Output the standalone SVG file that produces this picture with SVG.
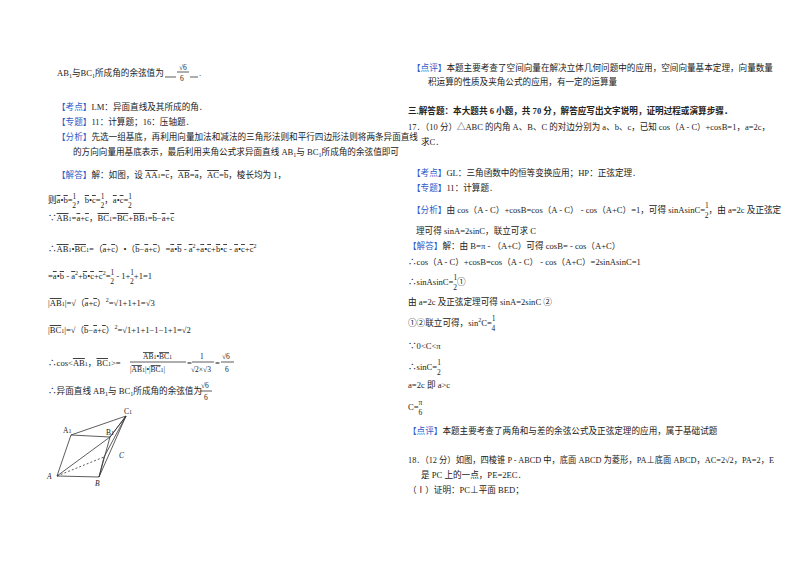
<svg xmlns="http://www.w3.org/2000/svg" width="800" height="565" viewBox="0 0 800 565">
<style>
text{font-family:"Liberation Serif","Noto Sans CJK SC",serif;font-size:8.6px;fill:#222}
.k{fill:#2f5bc8}
.b{font-weight:bold}
.o{text-decoration:overline}
.s{font-size:6px}
.f{font-size:7.5px}
line,path{stroke:#333;stroke-width:0.8;fill:none}
</style>
<rect width="800" height="565" fill="#fff"/>
<g id="left">
<text x="57" y="76">AB<tspan class="s" dy="2">1</tspan><tspan dy="-2">与BC</tspan><tspan class="s" dy="2">1</tspan><tspan dy="-2">所成角的余弦值为</tspan></text>
<line x1="165" y1="77" x2="176" y2="77" stroke-width="0.6"/>
<text x="179" y="70" class="f">√6</text><line x1="177" y1="72" x2="189" y2="72"/><text x="180" y="81" class="f">6</text>
<line x1="190" y1="77" x2="198" y2="77" stroke-width="0.6"/><text x="199" y="76">.</text>
<text x="57" y="110"><tspan class="k">【考点】</tspan>LM：异面直线及其所成的角．</text>
<text x="57" y="125"><tspan class="k">【专题】</tspan>11：计算题；16：压轴题．</text>
<text x="57" y="140"><tspan class="k">【分析】</tspan>先选一组基底，再利用向量加法和减法的三角形法则和平行四边形法则将两条异面直线</text>
<text x="73" y="155">的方向向量用基底表示，最后利用夹角公式求异面直线 AB<tspan class="s" dy="2">1</tspan><tspan dy="-2">与 BC</tspan><tspan class="s" dy="2">1</tspan><tspan dy="-2">所成角的余弦值即可</tspan></text>
<text x="57" y="178"><tspan class="k">【解答】</tspan>解：如图，设 <tspan class="o">AA</tspan><tspan class="s">1</tspan>=<tspan class="o">c</tspan>，<tspan class="o">AB</tspan>=<tspan class="o">a</tspan>，<tspan class="o">AC</tspan>=<tspan class="o">b</tspan>，棱长均为 1，</text>
<text x="48" y="203">则<tspan class="o">a</tspan>•<tspan class="o">b</tspan>=<tspan dy="-4" class="f">1</tspan><tspan dy="9" dx="-4" class="f">2</tspan><tspan dy="-5">，</tspan><tspan class="o">b</tspan>•<tspan class="o">c</tspan>=<tspan dy="-4" class="f">1</tspan><tspan dy="9" dx="-4" class="f">2</tspan><tspan dy="-5">，</tspan><tspan class="o">a</tspan>•<tspan class="o">c</tspan>=<tspan dy="-4" class="f">1</tspan><tspan dy="9" dx="-4" class="f">2</tspan></text>
<text x="48" y="221">∵<tspan class="o">AB</tspan><tspan class="s">1</tspan>=<tspan class="o">a</tspan>+<tspan class="o">c</tspan>，<tspan class="o">BC</tspan><tspan class="s">1</tspan>=<tspan class="o">BC</tspan>+<tspan class="o">BB</tspan><tspan class="s">1</tspan>=<tspan class="o">b</tspan>−<tspan class="o">a</tspan>+<tspan class="o">c</tspan></text>
<text x="48" y="252">∴<tspan class="o">AB</tspan><tspan class="s">1</tspan>•<tspan class="o">BC</tspan><tspan class="s">1</tspan>=（<tspan class="o">a</tspan>+<tspan class="o">c</tspan>）•（<tspan class="o">b</tspan>−<tspan class="o">a</tspan>+<tspan class="o">c</tspan>）=<tspan class="o">a</tspan>•<tspan class="o">b</tspan> - <tspan class="o">a</tspan><tspan class="s" dy="-4">2</tspan><tspan dy="4">+</tspan><tspan class="o">a</tspan>•<tspan class="o">c</tspan>+<tspan class="o">b</tspan>•<tspan class="o">c</tspan> - <tspan class="o">a</tspan>•<tspan class="o">c</tspan>+<tspan class="o">c</tspan><tspan class="s" dy="-4">2</tspan></text>
<text x="48" y="279">=<tspan class="o">a</tspan>•<tspan class="o">b</tspan> - <tspan class="o">a</tspan><tspan class="s" dy="-4">2</tspan><tspan dy="4">+</tspan><tspan class="o">b</tspan>•<tspan class="o">c</tspan>+<tspan class="o">c</tspan><tspan class="s" dy="-4">2</tspan><tspan dy="4">=</tspan><tspan dy="-4" class="f">1</tspan><tspan dy="9" dx="-4" class="f">2</tspan><tspan dy="-5"> - 1+</tspan><tspan dy="-4" class="f">1</tspan><tspan dy="9" dx="-4" class="f">2</tspan><tspan dy="-5">+1=1</tspan></text>
<text x="48" y="306">|<tspan class="o">AB</tspan><tspan class="s">1</tspan>|=√（<tspan class="o">a</tspan>+<tspan class="o">c</tspan>）<tspan class="s" dy="-4">2</tspan><tspan dy="4">=√1+1+1=√3</tspan></text>
<text x="48" y="333">|<tspan class="o">BC</tspan><tspan class="s">1</tspan>|=√（<tspan class="o">b</tspan>−<tspan class="o">a</tspan>+<tspan class="o">c</tspan>）<tspan class="s" dy="-4">2</tspan><tspan dy="4">=√1+1+1−1−1+1=√2</tspan></text>
<text x="48" y="366">∴cos&lt;<tspan class="o">AB</tspan><tspan class="s">1</tspan>，<tspan class="o">BC</tspan><tspan class="s">1</tspan>&gt;=</text>
<text x="143" y="359" class="f"><tspan class="o">AB</tspan><tspan class="s">1</tspan>•<tspan class="o">BC</tspan><tspan class="s">1</tspan></text>
<line x1="130" y1="362" x2="186" y2="362"/>
<text x="130" y="372" class="f">|<tspan class="o">AB</tspan><tspan class="s">1</tspan>|•|<tspan class="o">BC</tspan><tspan class="s">1</tspan>|</text>
<text x="187" y="366">=</text>
<text x="200" y="359" class="f">1</text><line x1="192" y1="362" x2="214" y2="362"/><text x="191" y="372" class="f">√2×√3</text>
<text x="215" y="366">=</text>
<text x="222" y="359" class="f">√6</text><line x1="221" y1="362" x2="234" y2="362"/><text x="225" y="372" class="f">6</text>
<text x="48" y="394">∴异面直线 AB<tspan class="s" dy="2">1</tspan><tspan dy="-2">与 BC</tspan><tspan class="s" dy="2">1</tspan><tspan dy="-2">所成角的余弦值为</tspan></text>
<text x="201" y="388" class="f">√6</text><line x1="200" y1="391" x2="212" y2="391"/><text x="204" y="400" class="f">6</text>
</g>
<g id="figure">
<path d="M57 476 L71 435 L110 437 L126 416 L71 435 M57 476 L99 477 L110 437 M57 476 L110 437 M99 477 L126 416 M110 437 L126 416 M104 457 L126 416 M99 477 L104 457"/>
<path d="M57 476 L104 457" stroke-dasharray="2,2"/>
<text x="63" y="433" class="f">A<tspan class="s">1</tspan></text>
<text x="106" y="435" class="f">B<tspan class="s">1</tspan></text>
<text x="124" y="414" class="f">C<tspan class="s">1</tspan></text>
<text x="119" y="458" class="f" font-style="italic">C</text>
<text x="47" y="479" class="f" font-style="italic">A</text>
<text x="95" y="486" class="f" font-style="italic">B</text>
</g>
<g id="right">
<text x="412" y="71"><tspan class="k">【点评】</tspan>本题主要考查了空间向量在解决立体几何问题中的应用，空间向量基本定理，向量数量</text>
<text x="428" y="85">积运算的性质及夹角公式的应用，有一定的运算量</text>
<text x="408" y="114" class="b">三.解答题：本大题共 6 小题，共 70 分，解答应写出文字说明，证明过程或演算步骤．</text>
<text x="408" y="130" textLength="362" lengthAdjust="spacingAndGlyphs">17．（10 分）△ABC 的内角 A、B、C 的对边分别为 a、b、c，已知 cos（A - C）+cosB=1，a=2c，</text>
<text x="421" y="145">求C．</text>
<text x="412" y="176"><tspan class="k">【考点】</tspan>GL：三角函数中的恒等变换应用；HP：正弦定理．</text>
<text x="412" y="191"><tspan class="k">【专题】</tspan>11：计算题．</text>
<text x="412" y="213"><tspan class="k">【分析】</tspan>由 cos（A - C）+cosB=cos（A - C） - cos（A+C）=1，可得 sinAsinC=<tspan dy="-5" class="f">1</tspan><tspan dy="10" dx="-4" class="f">2</tspan><tspan dy="-5">，由 a=2c 及正弦定</tspan></text>
<text x="416" y="234">理可得 sinA=2sinC，联立可求 C</text>
<text x="408" y="249"><tspan class="k">【解答】</tspan>解：由 B=π - （A+C）可得 cosB= - cos（A+C）</text>
<text x="408" y="265">∴cos（A - C）+cosB=cos（A - C） - cos（A+C）=2sinAsinC=1</text>
<text x="408" y="285">∴sinAsinC=<tspan dy="-5" class="f">1</tspan><tspan dy="10" dx="-4" class="f">2</tspan><tspan dy="-5">①</tspan></text>
<text x="408" y="305">由 a=2c 及正弦定理可得 sinA=2sinC ②</text>
<text x="408" y="326">①②联立可得，sin<tspan class="s" dy="-4">2</tspan><tspan dy="4">C=</tspan><tspan dy="-5" class="f">1</tspan><tspan dy="10" dx="-4" class="f">4</tspan></text>
<text x="408" y="349">∵0&lt;C&lt;π</text>
<text x="408" y="370">∴sinC=<tspan dy="-5" class="f">1</tspan><tspan dy="10" dx="-4" class="f">2</tspan></text>
<text x="408" y="388">a=2c 即 a&gt;c</text>
<text x="408" y="410">C=<tspan dy="-5" class="f">π</tspan><tspan dy="10" dx="-4" class="f">6</tspan></text>
<text x="408" y="434"><tspan class="k">【点评】</tspan>本题主要考查了两角和与差的余弦公式及正弦定理的应用，属于基础试题</text>
<text x="408" y="463" textLength="366" lengthAdjust="spacingAndGlyphs">18．（12 分）如图，四棱锥 P - ABCD 中，底面 ABCD 为菱形，PA⊥底面 ABCD，AC=2√2，PA=2，E</text>
<text x="421" y="478">是 PC 上的一点，PE=2EC．</text>
<text x="408" y="493">（Ⅰ）证明：PC⊥平面 BED；</text>
</g>
</svg>
